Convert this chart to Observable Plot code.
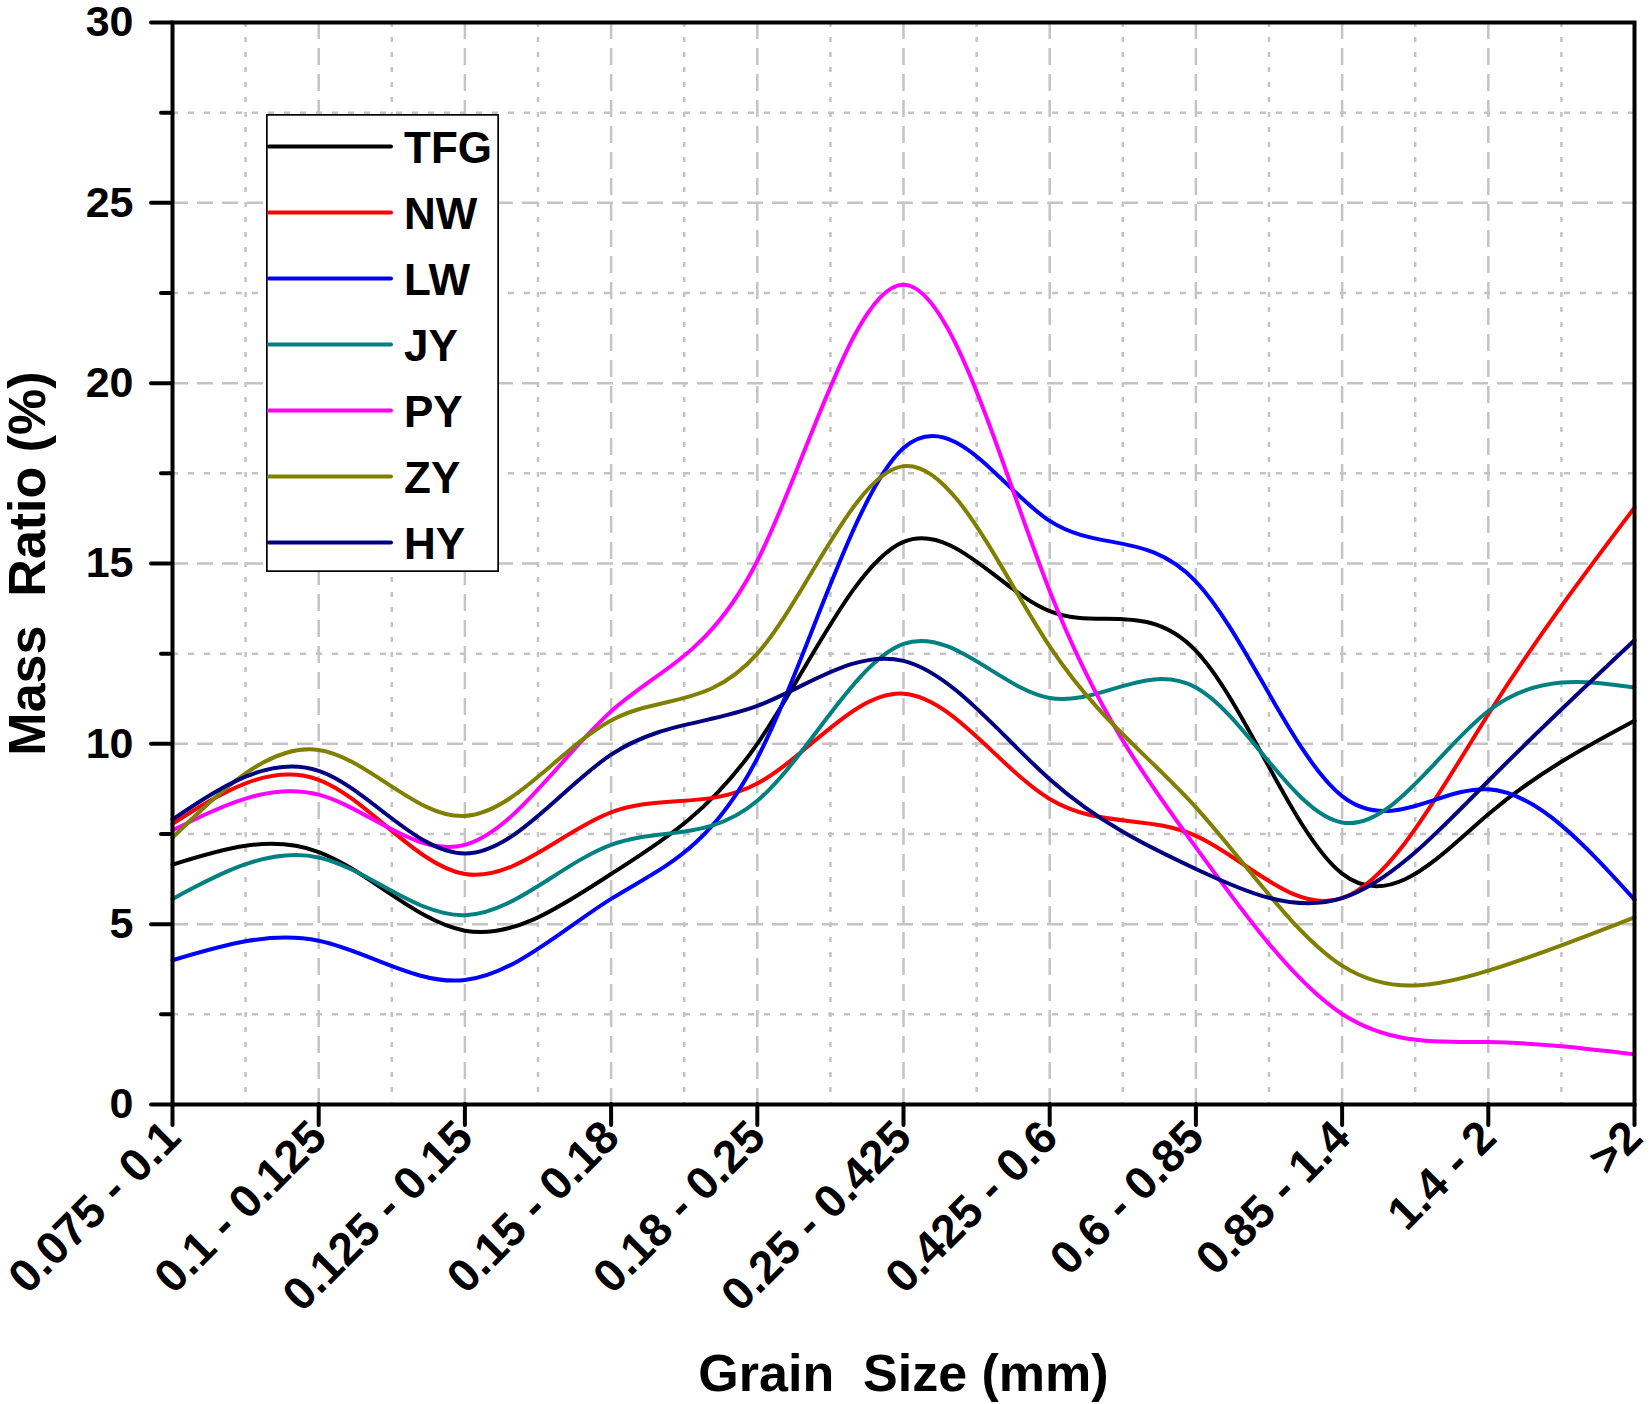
<!DOCTYPE html>
<html>
<head>
<meta charset="utf-8">
<script src="https://cdn.jsdelivr.net/npm/d3@7"></script>
<script src="https://cdn.jsdelivr.net/npm/@observablehq/plot@0.6"></script>
<style>
  body { margin: 0; background: #fff; }
  #wrap { position: relative; width: 1652px; height: 1404px; }
  #wrap svg text { white-space: pre; }
  #legend { position: absolute; left: 266px; top: 114px; }
</style>
</head>
<body>
<div id="wrap"></div>
<script>
// ---- data ----
const categories = ["0.075 - 0.1", "0.1 - 0.125", "0.125 - 0.15", "0.15 - 0.18", "0.18 - 0.25",
  "0.25 - 0.425", "0.425 - 0.6", "0.6 - 0.85", "0.85 - 1.4", "1.4 - 2", ">2"];
const seriesNames = ["TFG", "NW", "LW", "JY", "PY", "ZY", "HY"];
const seriesColors = ["#000000", "#ff0000", "#0000ff", "#008080", "#ff00ff", "#808000", "#000080"];
const TFG = [6.65, 7.0, 4.82, 6.39, 10.0, 15.6, 13.68, 12.58, 6.4, 8.05, 10.64];
const NW  = [7.78, 9.0, 6.39, 8.1, 8.9, 11.39, 8.47, 7.45, 5.72, 10.82, 16.55];
const LW  = [4.0, 4.54, 3.45, 5.7, 9.6, 18.2, 16.18, 14.5, 8.55, 8.74, 5.68];
const JY  = [5.7, 6.85, 5.25, 7.2, 8.42, 12.77, 11.27, 11.56, 7.82, 10.91, 11.56];
const PY  = [7.6, 8.59, 7.2, 10.9, 15.07, 22.73, 14.24, 7.13, 2.51, 1.73, 1.39];
const ZY  = [7.4, 9.83, 8.0, 10.65, 12.5, 17.7, 12.7, 8.24, 3.85, 3.71, 5.19];
const HY  = [7.9, 9.25, 6.96, 9.7, 11.05, 12.3, 9.02, 6.53, 5.72, 8.97, 12.87];
const yMajorTicks = [0, 5, 10, 15, 20, 25, 30];
const yMinorTicks = [2.5, 7.5, 12.5, 17.5, 22.5, 27.5];
const xTitle = "Grain  Size (mm)";
const yTitle = "Mass  Ratio (%)";

// ---- build table ----
const seriesValues = [TFG, NW, LW, JY, PY, ZY, HY];
const rows = [];
seriesNames.forEach((s, k) => seriesValues[k].forEach((v, i) => rows.push({series: s, i, v})));
const catIdx = categories.map((c, i) => i);
const xMinor = catIdx.slice(0, -1).map(i => i + 0.5);
const xMajorInner = catIdx.slice(1, -1);

const font = "'Liberation Sans', Arial, sans-serif";
const gridColor = "#c4c4c4";

const chart = Plot.plot({
  width: 1652,
  height: 1404,
  marginLeft: 172,
  marginRight: 18,
  marginTop: 22,
  marginBottom: 300,
  style: {fontFamily: font, fontWeight: "bold", background: "#fff", color: "#000", overflow: "visible"},
  x: {type: "linear", domain: [0, categories.length - 1]},
  y: {domain: [0, 30]},
  color: {domain: seriesNames, range: seriesColors},
  marks: [
    Plot.gridX(xMinor, {stroke: gridColor, strokeOpacity: 1, strokeWidth: 2.5, strokeDasharray: "5,10"}),
    Plot.gridX(xMajorInner, {stroke: gridColor, strokeOpacity: 1, strokeWidth: 2.5, strokeDasharray: "17,9"}),
    Plot.gridY(yMinorTicks, {stroke: gridColor, strokeOpacity: 1, strokeWidth: 2.5, strokeDasharray: "6,10"}),
    Plot.gridY(yMajorTicks.slice(1, -1), {stroke: gridColor, strokeOpacity: 1, strokeWidth: 2.5, strokeDasharray: "16,9"}),
    Plot.line(rows, {x: "i", y: "v", stroke: "series", curve: "natural", strokeWidth: 4}),
    Plot.frame({stroke: "#000", strokeWidth: 4}),
    Plot.axisY(yMajorTicks, {tickSize: 21, tickPadding: 18, fontSize: 43, strokeWidth: 4, strokeLinecap: "round", label: null}),
    Plot.axisY(yMinorTicks, {tickSize: 11, strokeWidth: 4, strokeLinecap: "round", tickFormat: () => "", label: null}),
    Plot.axisX(catIdx, {tickSize: 21, tickPadding: 4, fontSize: 46, strokeWidth: 4, strokeLinecap: "round",
      tickRotate: -45, tickFormat: i => categories[i], label: null}),
    Plot.text([yTitle], {frameAnchor: "left", dx: -144, rotate: -90, fontSize: 52, fontWeight: "bold",
      textAnchor: "middle", lineAnchor: "middle"}),
    Plot.text([xTitle], {frameAnchor: "bottom", dy: 270, fontSize: 52, fontWeight: "bold",
      textAnchor: "middle", lineAnchor: "middle"})
  ]
});
const wrap = document.getElementById("wrap");
wrap.appendChild(chart);

// ---- legend (inside plot area, upper left) ----
const lw = 233, lh = 458, rowStep = 66.0, row0 = 32.4;
const leg = d3.select(wrap).append("svg")
  .attr("id", "legend").attr("width", lw).attr("height", lh)
  .style("font-family", font).style("font-weight", "bold");
leg.append("rect").attr("x", 0.85).attr("y", 0.85).attr("width", lw - 1.7).attr("height", lh - 1.7)
  .attr("fill", "#fff").attr("stroke", "#000").attr("stroke-width", 1.7);
const item = leg.selectAll("g").data(seriesNames).join("g")
  .attr("transform", (d, k) => `translate(0,${row0 + k * rowStep})`);
item.append("line").attr("x1", 3).attr("x2", 125).attr("y1", 0).attr("y2", 0)
  .attr("stroke", (d, k) => seriesColors[k]).attr("stroke-width", 4).attr("stroke-linecap", "round");
item.append("text").attr("x", 138).attr("dy", "0.37em").attr("font-size", 44).text(d => d);
</script>
</body>
</html>
